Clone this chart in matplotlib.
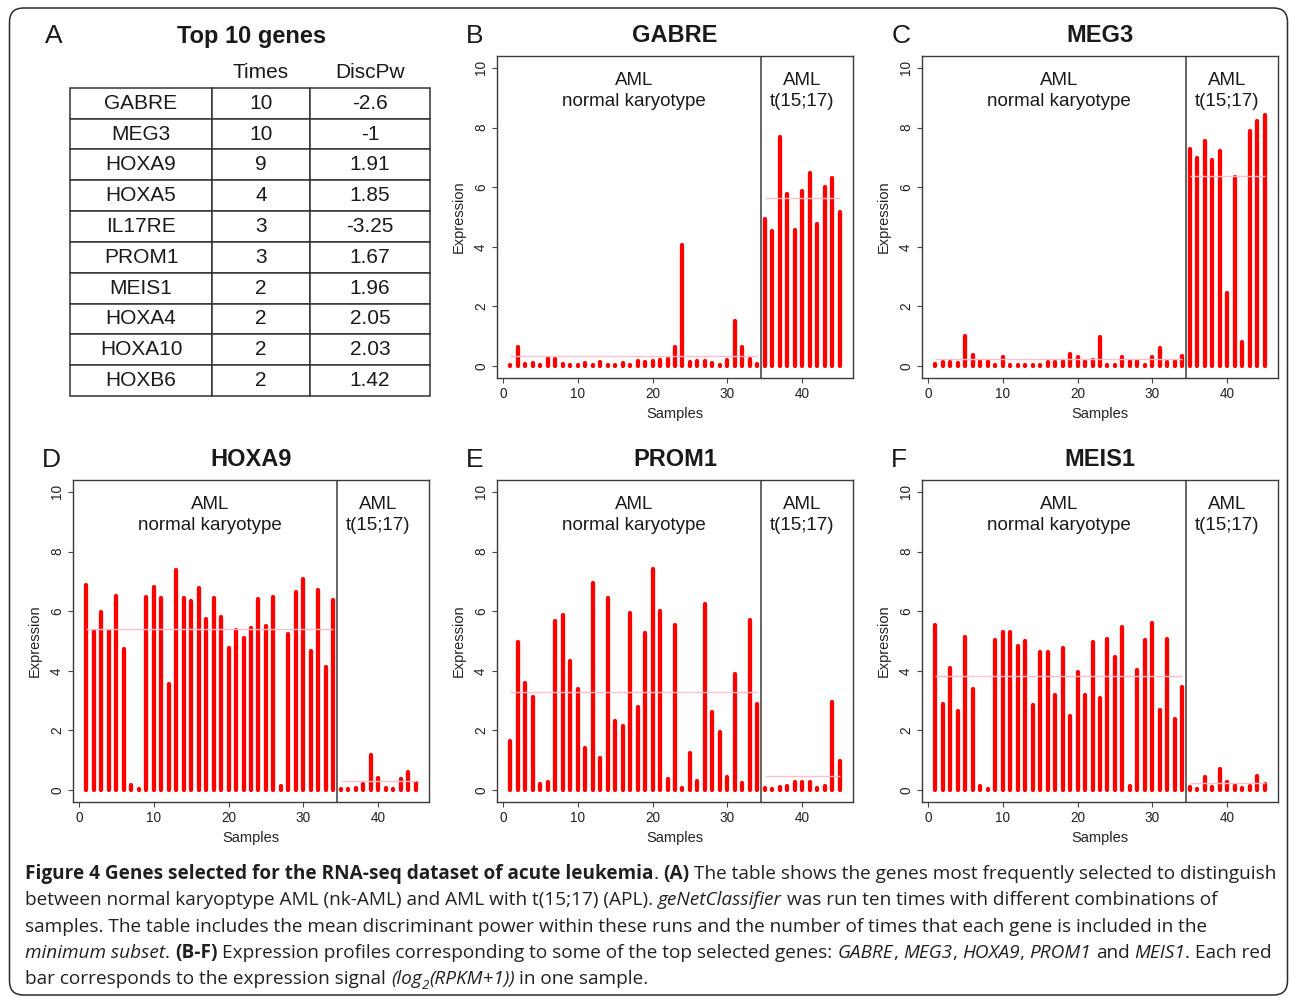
import numpy as np
import matplotlib.pyplot as plt
from matplotlib.patches import FancyBboxPatch
from matplotlib.font_manager import FontProperties

W, H = 1290, 998

# Panel A table
genes = ["GABRE", "MEG3", "HOXA9", "HOXA5", "IL17RE", "PROM1", "MEIS1", "HOXA4", "HOXA10", "HOXB6"]
times = [10, 10, 9, 4, 3, 3, 2, 2, 2, 2]
disc_pw = [-2.6, -1, 1.91, 1.85, -3.25, 1.67, 1.96, 2.05, 2.03, 1.42]

# Panels B-F: log2(RPKM+1) per sample, 34 nk-AML then 11 t(15;17)
n_normal = 34
samples = np.arange(1, 46)

gabre = [0.05, 0.65, 0.08, 0.10, 0.05, 0.26, 0.23, 0.07, 0.05, 0.05,
         0.10, 0.05, 0.15, 0.05, 0.05, 0.10, 0.05, 0.17, 0.15, 0.17,
         0.22, 0.25, 0.63, 4.07, 0.12, 0.17, 0.18, 0.10, 0.05, 0.20,
         1.51, 0.65, 0.25, 0.07,
         4.93, 4.54, 7.67, 5.78, 4.56, 5.88, 6.47, 4.76, 6.00, 6.30, 5.18]
meg3 = [0.07, 0.15, 0.15, 0.10, 1.02, 0.37, 0.18, 0.18, 0.05, 0.31,
        0.05, 0.05, 0.05, 0.05, 0.05, 0.15, 0.12, 0.17, 0.42, 0.30,
        0.17, 0.20, 0.98, 0.05, 0.05, 0.30, 0.17, 0.17, 0.05, 0.30,
        0.62, 0.15, 0.17, 0.35,
        7.28, 6.98, 7.54, 6.92, 7.22, 2.46, 6.35, 0.80, 7.90, 8.23, 8.42]
hoxa9 = [6.89, 5.32, 5.96, 5.32, 6.52, 4.73, 0.18, 0.05, 6.48, 6.81,
         6.43, 3.55, 7.37, 6.44, 6.33, 6.78, 5.73, 6.43, 5.82, 4.76,
         5.36, 5.10, 5.42, 6.42, 5.49, 6.47, 0.15, 5.23, 6.63, 7.08,
         4.68, 6.71, 4.12, 6.38,
         0.05, 0.05, 0.07, 0.20, 1.18, 0.39, 0.07, 0.05, 0.37, 0.62, 0.23]
prom1 = [1.66, 4.98, 3.60, 3.13, 0.20, 0.26, 5.68, 5.88, 4.33, 3.40,
         1.42, 6.93, 1.09, 6.44, 2.32, 2.15, 5.95, 2.80, 5.26, 7.41,
         5.99, 0.36, 5.54, 0.06, 1.25, 0.30, 6.24, 2.63, 1.96, 0.45,
         3.89, 0.25, 5.71, 2.89,
         0.07, 0.05, 0.10, 0.12, 0.28, 0.28, 0.28, 0.07, 0.15, 2.97, 0.99]
meis1 = [5.54, 2.90, 4.09, 2.65, 5.15, 3.39, 0.15, 0.05, 5.02, 5.30,
         5.30, 4.84, 4.99, 2.87, 4.62, 4.62, 3.19, 4.76, 2.49, 3.95,
         3.19, 4.98, 3.08, 5.06, 4.48, 5.48, 0.13, 4.02, 5.03, 5.59,
         2.69, 5.08, 2.40, 3.46,
         0.10, 0.03, 0.43, 0.10, 0.71, 0.27, 0.17, 0.07, 0.12, 0.47, 0.20]

caption = [
    [("Figure 4 Genes selected for the RNA-seq dataset of acute leukemia", "b"), (". ", "n"),
     ("(A)", "b"), (" The table shows the genes most frequently selected to distinguish", "n")],
    [("between normal karyoptype AML (nk-AML) and AML with t(15;17) (APL). ", "n"),
     ("geNetClassifier", "i"), (" was run ten times with different combinations of", "n")],
    [("samples. The table includes the mean discriminant power within these runs and the number of times that each gene is included in the", "n")],
    [("minimum subset", "i"), (". ", "n"), ("(B-F)", "b"),
     (" Expression profiles corresponding to some of the top selected genes: ", "n"),
     ("GABRE", "i"), (", ", "n"), ("MEG3", "i"), (", ", "n"), ("HOXA9", "i"), (", ", "n"),
     ("PROM1", "i"), (" and ", "n"), ("MEIS1", "i"), (". Each red", "n")],
    [("bar corresponds to the expression signal ", "n"), ("(log", "i"), ("2", "sub"),
     ("(RPKM+1))", "i"), (" in one sample.", "n")],
]

plt.rcParams["font.family"] = "Liberation Sans"
fig = plt.figure(figsize=(W / 100, H / 100), dpi=100)


def fy(y_px):
    return 1 - y_px / H


# outer rounded frame
frame = FancyBboxPatch((0.095, 0.03), 12.78, 9.87, boxstyle="round,pad=0,rounding_size=0.14",
                       transform=fig.dpi_scale_trans, fill=False, ec="#2b2b2b", lw=1.1)
fig.add_artist(frame)

# ---- panel A: table ----
ax_t = fig.add_axes([70 / W, fy(396), 360 / W, 339 / H])
ax_t.axis("off")
cells = [["", "Times", "DiscPw"]] + [[g, str(t), f"{d:g}"] for g, t, d in zip(genes, times, disc_pw)]
tbl = ax_t.table(cellText=cells, colWidths=[142 / 360, 98 / 360, 120 / 360],
                 cellLoc="center", bbox=[0, 0, 1, 1])
tbl.auto_set_font_size(False)
tbl.set_fontsize(15)
for (r, c), cell in tbl.get_celld().items():
    cell.set_edgecolor("#333333")
    cell.set_linewidth(1.1)
    cell.get_text().set_color("#1a1a1a")
    if r == 0:
        cell.visible_edges = "open"
fig.text(45 / W, fy(43.3), "A", fontsize=19, va="baseline", color="#1a1a1a")
fig.text(251.7 / W, fy(43.3), "Top 10 genes", fontsize=17, weight="bold", ha="center",
         va="baseline", color="#1a1a1a")

# ---- panels B-F ----
AX_W, AX_H = 355.4, 322
panels = [
    ("B", "GABRE", gabre, 497.3, 56),
    ("C", "MEG3", meg3, 922.3, 56),
    ("D", "HOXA9", hoxa9, 73.3, 480),
    ("E", "PROM1", prom1, 497.3, 480),
    ("F", "MEIS1", meis1, 922.3, 480),
]

for letter, gene, vals, left, top in panels:
    ax = fig.add_axes([left / W, fy(top + AX_H), AX_W / W, AX_H / H])
    v = np.asarray(vals)
    ax.vlines(samples, 0, v, colors="#ff0000", lw=3.1, capstyle="round", zorder=2)
    groups = [samples <= n_normal, samples > n_normal]
    for grp in groups:
        ax.hlines(v[grp].mean(), samples[grp][0], samples[grp][-1], colors="#ffc0cb", lw=1.0, zorder=3)
    ax.axvline(n_normal + 0.5, color="#3a3a3a", lw=1.1, zorder=4)

    nk_c = samples[groups[0]].mean()
    apl_c = samples[groups[1]].mean()
    for x, lines in ((nk_c, ("AML", "normal karyotype")), (apl_c, ("AML", "t(15;17)"))):
        ax.text(x, 9.57, lines[0], ha="center", va="center", fontsize=13.5, color="#1a1a1a")
        ax.text(x, 8.88, lines[1], ha="center", va="center", fontsize=13.5, color="#1a1a1a")

    ax.set_xlim(-0.76, 46.76)
    ax.set_ylim(-0.4, 10.4)
    ax.set_xticks(range(0, 41, 10))
    ax.set_yticks(range(0, 11, 2))
    ax.tick_params(direction="out", length=3.6, width=0.8, color="#444444",
                   labelsize=9.8, labelcolor="#222222", pad=3)
    ax.tick_params(axis="y", labelrotation=90)
    for lab in ax.get_yticklabels():
        lab.set_va("center")
    ax.set_xlabel("Samples", fontsize=10.5, labelpad=4.5, color="#222222")
    ax.set_ylabel("Expression", fontsize=10.5, labelpad=6, color="#222222")
    for sp in ax.spines.values():
        sp.set_color("#3a3a3a")
        sp.set_linewidth(1.0)

    fig.text((left - 31) / W, fy(top - 12.7), letter, fontsize=19, va="baseline", color="#1a1a1a")
    fig.text((left + AX_W / 2) / W, fy(top - 13.5), gene, fontsize=17, weight="bold",
             ha="center", va="baseline", color="#1a1a1a")

# ---- caption ----
cap_size = 13.7
styles = {
    "n": dict(weight="normal", style="normal", size=cap_size, dy=0),
    "b": dict(weight="bold", style="normal", size=cap_size, dy=0),
    "i": dict(weight="normal", style="italic", size=cap_size, dy=0),
    "sub": dict(weight="normal", style="italic", size=cap_size * 0.7, dy=4.5),
}
renderer = fig.canvas.get_renderer()


def advance(s, prop):
    w1, _, _ = renderer.get_text_width_height_descent("|" + s + "|", prop, ismath=False)
    w0, _, _ = renderer.get_text_width_height_descent("||", prop, ismath=False)
    return w1 - w0


for i, parts in enumerate(caption):
    x = 25.0
    base = 879 + i * 26.3
    for s, key in parts:
        st = styles[key]
        prop = FontProperties(family="Open Sans", weight=st["weight"], style=st["style"], size=st["size"])
        lead = len(s) - len(s.lstrip())
        x0 = x + (advance(s[:lead], prop) if lead else 0)
        if s.strip():
            fig.text(x0 / W, fy(base + st["dy"]), s.strip(), fontproperties=prop,
                     va="baseline", color="#231f20")
        x += advance(s, prop)

fig.savefig("out.png", dpi=100)
